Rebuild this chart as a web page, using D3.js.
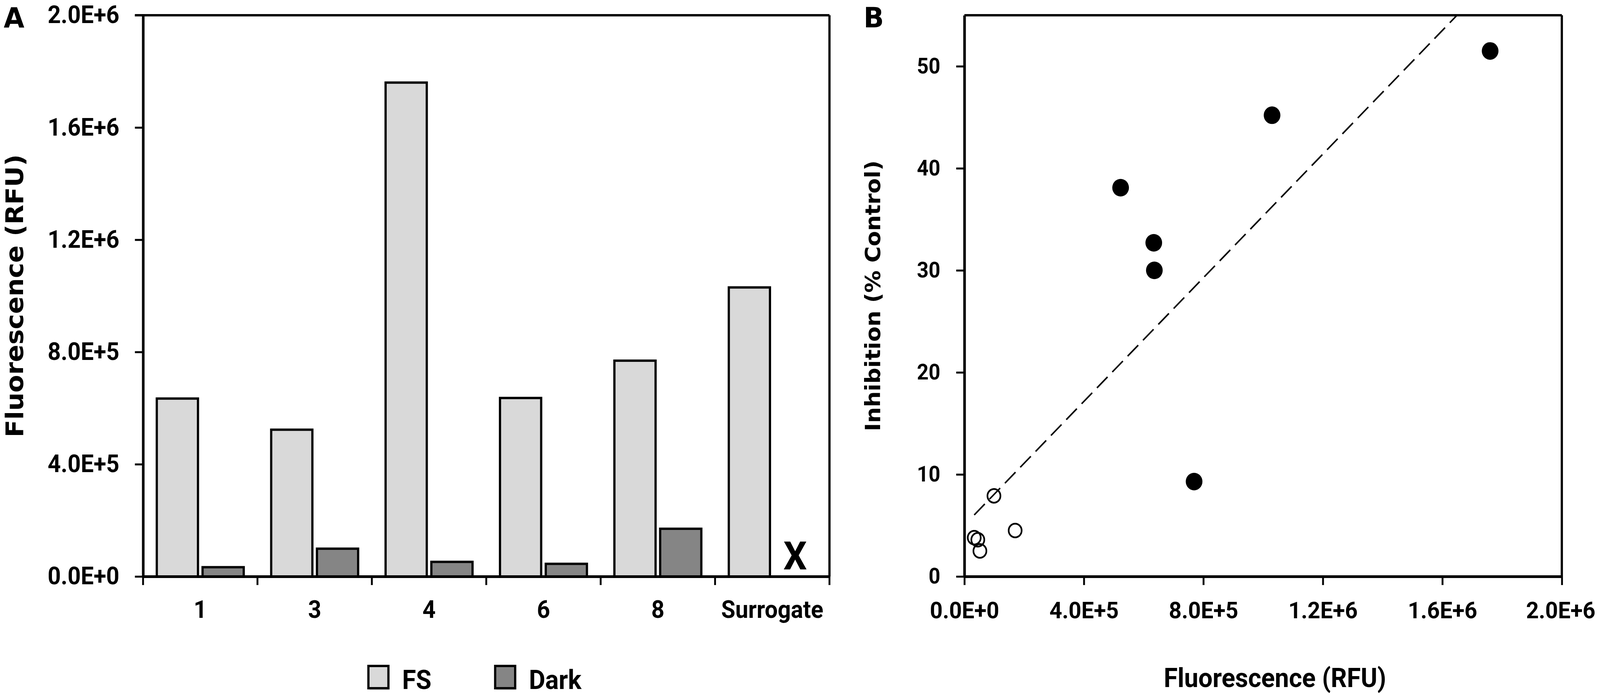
<!DOCTYPE html>
<html>
<head>
<meta charset="utf-8">
<script src="https://cdn.jsdelivr.net/npm/d3@7"></script>
<style>
html, body { margin: 0; padding: 0; background: #fff; overflow: hidden; width: 100%; height: 100%; }
svg { display: block; width: 100vw; height: 100vh; }
text { font-family: Roboto, 'Liberation Sans Narrow', sans-serif; font-weight: bold; fill: #000; }
.wide { font-family: 'DejaVu Sans', Verdana, sans-serif; }
</style>
</head>
<body>
<script>
// values
const categories = ['1', '3', '4', '6', '8', 'Surrogate'];
const series = ['FS', 'Dark'];
const fsValues = [634000, 523000, 1760000, 636000, 769000, 1030000];
const darkValues = [33000, 99000, 52000, 45000, 170000, null];
const inhibitionFs = [32.7, 38.1, 51.5, 30.0, 9.3, 45.2];
const inhibitionDark = [3.8, 7.9, 2.5, 3.6, 4.5, null];
const barTicks = [0, 400000, 800000, 1200000, 1600000, 2000000];
const scatterXTicks = [0, 400000, 800000, 1200000, 1600000, 2000000];
const scatterYTicks = [0, 10, 20, 30, 40, 50];
const trendSlope = 30.3e-6;
const trendIntercept = 5.03;

const W = 4317, H = 1786;
const colors = { FS: '#d9d9d9', Dark: '#858585' };
const fmtE = d => d.toExponential(1).toUpperCase();

// scale to whatever the viewport really is
const svg = d3.select('body').append('svg')
	.attr('viewBox', `0 0 ${W} ${H}`)
	.attr('preserveAspectRatio', 'none')
	.append('g')
	.attr('transform', 'translate(0,6)');

// ---------- panel A : bars ----------
const a = { left: 386, right: 2238, top: 33, bottom: 1469 };

const yA = d3.scaleLinear().domain([0, 2000000]).range([a.bottom, a.top]);
const x0 = d3.scaleBand().domain(categories).range([a.left, a.right]);
const x1 = d3.scaleBand().domain(series).range([0, x0.bandwidth()])
	.paddingInner(0.1)
	.paddingOuter(0.3);

const barData = categories.flatMap((c, i) => [
	{ c, s: 'FS', v: fsValues[i] },
	{ c, s: 'Dark', v: darkValues[i] },
]);

const gA = svg.append('g');

gA.selectAll('rect.bar')
	.data(barData.filter(d => d.v != null))
	.enter()
	.append('rect')
	.attr('class', 'bar')
	.attr('x', d => x0(d.c) + x1(d.s))
	.attr('y', d => yA(d.v))
	.attr('width', x1.bandwidth())
	.attr('height', d => yA(0) - yA(d.v))
	.attr('fill', d => colors[d.s])
	.attr('stroke', '#000')
	.attr('stroke-width', 6);

// missing value marker
gA.selectAll('text.miss')
	.data(barData.filter(d => d.v == null))
	.enter()
	.append('text')
	.attr('class', 'miss')
	.attr('x', d => x0(d.c) + x1(d.s) + x1.bandwidth() / 2)
	.attr('y', yA(0) - 18)
	.attr('text-anchor', 'middle')
	.style('font-size', '100px')
	.text('X');

// frame
gA.append('line').attr('x1', a.left - 22).attr('x2', a.right).attr('y1', a.top).attr('y2', a.top)
	.attr('stroke', '#000').attr('stroke-width', 6);
gA.append('line').attr('x1', a.right).attr('x2', a.right).attr('y1', a.top).attr('y2', a.bottom)
	.attr('stroke', '#000').attr('stroke-width', 6);

const yAxisA = gA.append('g')
	.attr('transform', `translate(${a.left},0)`)
	.call(d3.axisLeft(yA).tickValues(barTicks).tickFormat(fmtE).tickSize(22).tickSizeOuter(0).tickPadding(42));

// x axis: boundary ticks + centred labels
const xAxisA = gA.append('g')
	.attr('transform', `translate(0,${a.bottom})`)
	.call(d3.axisBottom(x0).tickSize(0).tickSizeOuter(0).tickPadding(62));

gA.selectAll('line.bound')
	.data(categories.map(c => x0(c)).concat([a.right]))
	.enter()
	.append('line')
	.attr('class', 'bound')
	.attr('x1', d => d).attr('x2', d => d)
	.attr('y1', a.bottom).attr('y2', a.bottom + 22)
	.attr('stroke', '#000').attr('stroke-width', 5);

[yAxisA, xAxisA].forEach(g => {
	g.attr('font-family', null).attr('font-size', null);
	g.select('.domain').attr('stroke', '#000').attr('stroke-width', 7);
	g.selectAll('.tick line').attr('stroke', '#000').attr('stroke-width', 5);
	g.selectAll('.tick text').attr('fill', '#000').style('font-size', '62px');
});

// y title A
svg.append('text')
	.attr('class', 'wide')
	.attr('transform', `translate(62,${(a.top + a.bottom) / 2}) rotate(-90)`)
	.attr('text-anchor', 'middle')
	.style('font-size', '66px')
	.text('Fluorescence (RFU)');

// legend
const legendX = [994, 1336];
const legend = svg.append('g').selectAll('g')
	.data(series)
	.enter()
	.append('g')
	.attr('transform', (d, i) => `translate(${legendX[i]},1698)`);
legend.append('rect')
	.attr('x', 3).attr('y', 6)
	.attr('width', 54).attr('height', 57)
	.attr('fill', '#ccc').attr('opacity', 0.5);
legend.append('rect')
	.attr('width', 54).attr('height', 57)
	.attr('fill', d => colors[d])
	.attr('stroke', '#000').attr('stroke-width', 6);
legend.append('text')
	.attr('x', 91).attr('y', 59)
	.style('font-size', '68px')
	.text(d => d);

// ---------- panel B : scatter ----------
const b = { left: 2602, right: 4214, top: 33, bottom: 1469 };

const xB = d3.scaleLinear().domain([0, 2000000]).range([b.left, b.right]);
const yB = d3.scaleLinear().domain([0, 55]).range([b.bottom, b.top]);

const gB = svg.append('g');

gB.append('clipPath').attr('id', 'clipB')
	.append('rect')
	.attr('x', b.left).attr('y', b.top)
	.attr('width', b.right - b.left).attr('height', b.bottom - b.top);

gB.append('line').attr('x1', b.left).attr('x2', b.right).attr('y1', b.top).attr('y2', b.top)
	.attr('stroke', '#000').attr('stroke-width', 6);
gB.append('line').attr('x1', b.right).attr('x2', b.right).attr('y1', b.top).attr('y2', b.bottom)
	.attr('stroke', '#000').attr('stroke-width', 6);

const xAxisB = gB.append('g')
	.attr('transform', `translate(0,${b.bottom})`)
	.call(d3.axisBottom(xB).tickValues(scatterXTicks).tickFormat(fmtE).tickSize(22).tickSizeOuter(0).tickPadding(42));
const yAxisB = gB.append('g')
	.attr('transform', `translate(${b.left},0)`)
	.call(d3.axisLeft(yB).tickValues(scatterYTicks).tickFormat(d3.format('d')).tickSize(22).tickSizeOuter(0).tickPadding(43));

[xAxisB, yAxisB].forEach(g => {
	g.attr('font-family', null).attr('font-size', null);
	g.select('.domain').attr('stroke', '#000').attr('stroke-width', 7);
	g.selectAll('.tick line').attr('stroke', '#000').attr('stroke-width', 5);
	g.selectAll('.tick text').attr('fill', '#000').style('font-size', '60px');
});
yAxisB.selectAll('.tick text').style('font-size', '55px');
// last label sits against the right edge
xAxisB.selectAll('.tick text')
	.filter(d => d === d3.max(scatterXTicks))
	.attr('text-anchor', 'end')
	.attr('x', 90);

// trend line
const trendX = [d3.min(darkValues), d3.max(fsValues)];
gB.append('path')
	.datum(trendX)
	.attr('clip-path', 'url(#clipB)')
	.attr('d', d3.line().x(d => xB(d)).y(d => yB(trendIntercept + trendSlope * d)))
	.attr('fill', 'none')
	.attr('stroke', '#000')
	.attr('stroke-width', 4)
	.attr('stroke-dasharray', '40,18');

const fsPts = fsValues.map((v, i) => ({ x: v, y: inhibitionFs[i] }));
const darkPts = darkValues.map((v, i) => ({ x: v, y: inhibitionDark[i] })).filter(d => d.x != null);

gB.selectAll('circle.open')
	.data(darkPts)
	.enter()
	.append('circle')
	.attr('class', 'open')
	.attr('cx', d => xB(d.x))
	.attr('cy', d => yB(d.y))
	.attr('r', 17.5)
	.attr('fill', 'none')
	.attr('stroke', '#000')
	.attr('stroke-width', 4.5);

gB.selectAll('circle.filled')
	.data(fsPts)
	.enter()
	.append('circle')
	.attr('class', 'filled')
	.attr('cx', d => xB(d.x))
	.attr('cy', d => yB(d.y))
	.attr('r', 22.5)
	.attr('fill', '#000');

svg.append('text')
	.attr('class', 'wide')
	.attr('transform', `translate(2375,${(b.top + b.bottom) / 2}) rotate(-90)`)
	.attr('text-anchor', 'middle')
	.style('font-size', '57px')
	.text('Inhibition (% Control)');

svg.append('text')
	.attr('x', 3440).attr('y', 1752)
	.attr('text-anchor', 'middle')
	.style('font-size', '68px')
	.text('Fluorescence (RFU)');

// panel letters
svg.append('text').attr('class', 'wide').attr('x', 10).attr('y', 64).style('font-size', '72px').text('A');
svg.append('text').attr('class', 'wide').attr('x', 2330).attr('y', 64).style('font-size', '72px').text('B');
</script>
</body>
</html>
